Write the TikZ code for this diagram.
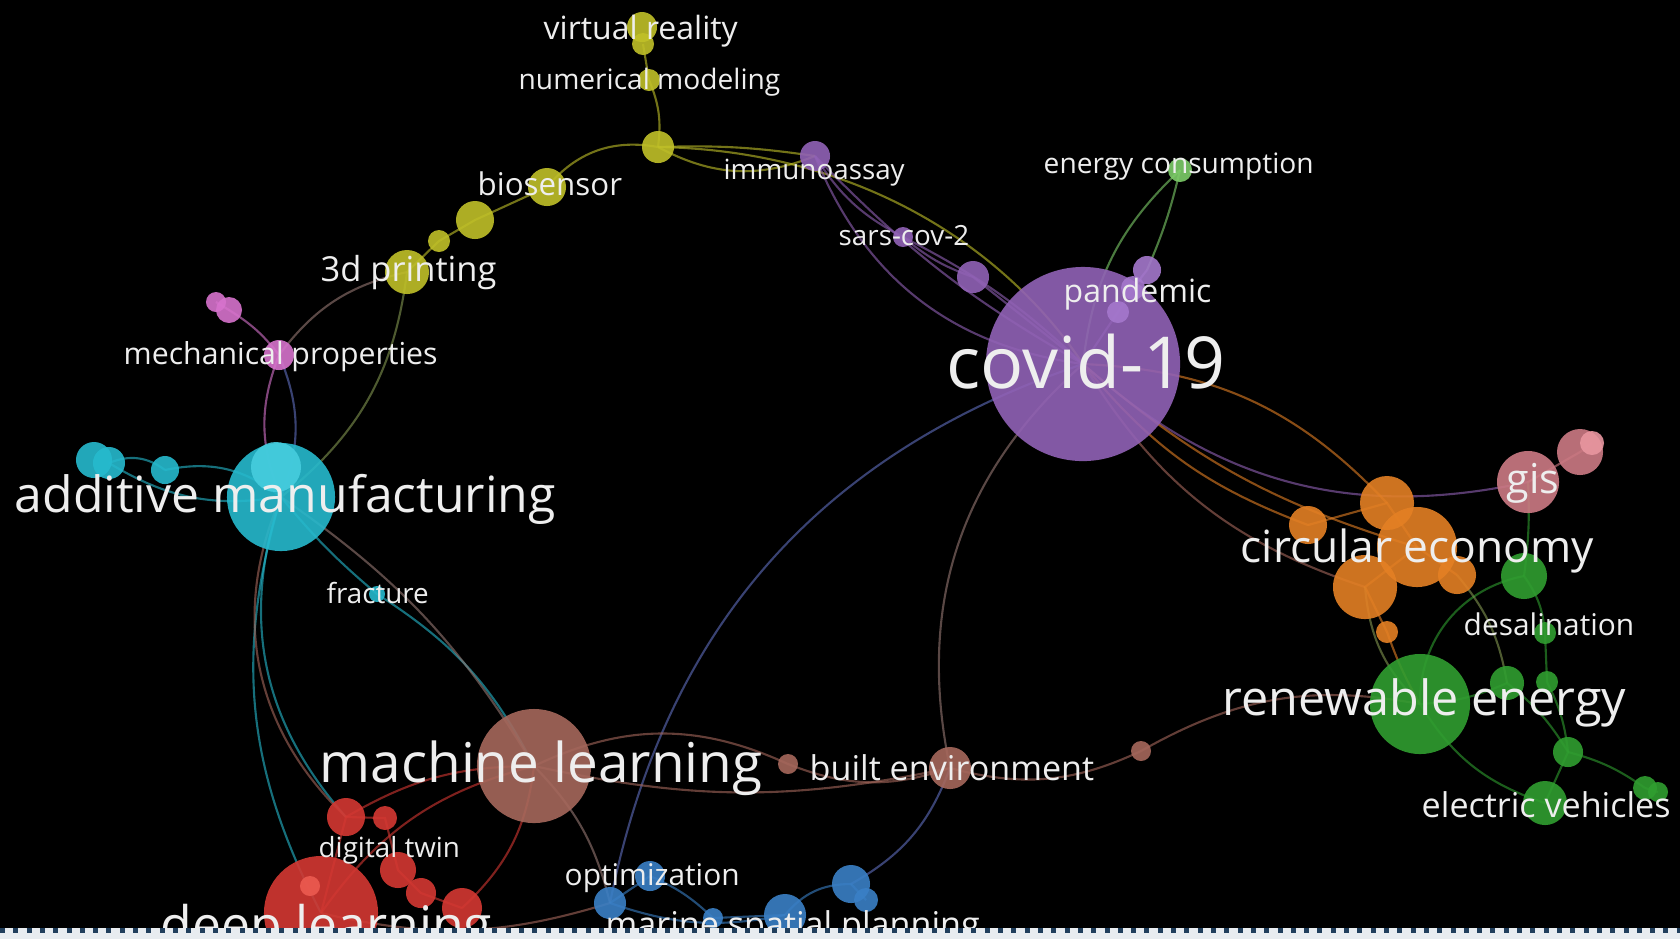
\documentclass[tikz,border=0pt]{standalone}
\usepackage{fontspec}
\setmainfont{Open Sans}
\usetikzlibrary{positioning}

\definecolor{yel}{RGB}{192,192,40}
\definecolor{pnk}{RGB}{215,115,205}
\definecolor{cyn}{RGB}{38,186,206}
\definecolor{cynl}{RGB}{70,205,222}
\definecolor{pur}{RGB}{145,98,182}
\definecolor{purl}{RGB}{165,120,205}
\definecolor{bpur}{RGB}{95,110,190}
\definecolor{lgr}{RGB}{125,205,105}
\definecolor{grn}{RGB}{48,158,48}
\definecolor{olv}{RGB}{130,150,80}
\definecolor{org}{RGB}{228,128,36}
\definecolor{gisc}{RGB}{205,122,132}
\definecolor{gisl}{RGB}{232,150,160}
\definecolor{brn}{RGB}{166,104,92}
\definecolor{gry}{RGB}{150,120,115}
\definecolor{red}{RGB}{212,56,50}
\definecolor{redl}{RGB}{236,90,80}
\definecolor{blu}{RGB}{58,128,198}
\definecolor{txt}{RGB}{238,238,238}
\definecolor{strip}{RGB}{232,236,240}
\definecolor{navy}{RGB}{32,62,92}

\pgfdeclarelayer{back}
\pgfdeclarelayer{links}
\pgfsetlayers{back,links,main}

\begin{document}
\begin{tikzpicture}[
    x=0.01cm, y=-0.01cm,
    term/.style 2 args={circle, fill=#1, fill opacity=0.9, minimum size=#2*0.02cm, inner sep=0pt},
    link/.style={draw=#1, draw opacity=0.6, line width=0.6pt},
    lbl/.style={text=txt, anchor=base west, inner sep=0pt, font=\fontsize{#1}{#1}\selectfont}
]
    \useasboundingbox (0,0) rectangle (1680,938);
    \begin{pgfonlayer}{back}
        \fill[black] (0,0) rectangle (1680,938);
    \end{pgfonlayer}

    % yellow cluster
    \node[term={yel}{15}] (vr) at (642,27) {};
    \node[term={yel}{11}] (vrb) at (643,44) {};
    \node[term={yel}{11}] (nm) at (649,80) {};
    \node[term={yel}{16}] (yhub) at (658,147) {};
    \node[term={yel}{19}] (bio) at (547,187) {};
    \node[term={yel}{19}] (ya) at (475,220) {};
    \node[term={yel}{11}] (yb) at (439,241) {};
    \node[term={yel}{22}] (print) at (407,272) {};

    % pink
    \node[term={pnk}{10}] (pa) at (216,302) {};
    \node[term={pnk}{13}] (pb) at (229,310) {};
    \node[term={pnk}{15}] (mech) at (279,355) {};

    % cyan
    \node[term={cyn}{54}] (am) at (281,497) {};
    \node[term={cynl}{25}] (amb) at (276,467) {};
    \node[term={cyn}{18}] (ca) at (94,460) {};
    \node[term={cyn}{16}] (cb) at (109,463) {};
    \node[term={cyn}{14}] (cc) at (165,470) {};
    \node[term={cyn}{8}] (frac) at (377,594) {};

    % purple
    \node[term={pur}{97}] (covid) at (1083,364) {};
    \node[term={pur}{15}] (imm) at (815,156) {};
    \node[term={pur}{10}] (sars) at (903,237) {};
    \node[term={pur}{16}] (pv) at (973,277) {};
    \node[term={purl}{14}] (pan) at (1147,270) {};
    \node[term={purl}{12}] (pana) at (1133,288) {};
    \node[term={purl}{11}] (panb) at (1118,312) {};
    \node[term={lgr}{12}] (energy) at (1180,170) {};

    % orange
    \node[term={org}{27}] (oa) at (1387,503) {};
    \node[term={org}{40}] (circ) at (1417,547) {};
    \node[term={org}{32}] (ob) at (1365,587) {};
    \node[term={org}{19}] (oc) at (1457,575) {};
    \node[term={org}{19}] (od) at (1308,525) {};
    \node[term={org}{11}] (oe) at (1387,632) {};

    % gis
    \node[term={gisc}{31}] (gis) at (1528,482) {};
    \node[term={gisc}{23}] (gisa) at (1580,452) {};
    \node[term={gisl}{12}] (gisb) at (1592,443) {};

    % green
    \node[term={grn}{50}] (renew) at (1420,704) {};
    \node[term={grn}{23}] (ga) at (1524,576) {};
    \node[term={grn}{11}] (desal) at (1545,633) {};
    \node[term={grn}{17}] (gb) at (1507,683) {};
    \node[term={grn}{11}] (gc) at (1547,682) {};
    \node[term={grn}{15}] (gd) at (1568,752) {};
    \node[term={grn}{22}] (ev) at (1545,803) {};
    \node[term={grn}{12}] (ge) at (1645,788) {};
    \node[term={grn}{10}] (gf) at (1658,792) {};

    % brown
    \node[term={brn}{57}] (ml) at (534,766) {};
    \node[term={brn}{10}] (ma) at (788,764) {};
    \node[term={brn}{21}] (built) at (950,768) {};
    \node[term={brn}{10}] (mb) at (1141,751) {};

    % red
    \node[term={red}{57}] (deep) at (321,913) {};
    \node[term={redl}{10}] (deepa) at (310,886) {};
    \node[term={red}{19}] (ra) at (346,817) {};
    \node[term={red}{12}] (rb) at (385,818) {};
    \node[term={red}{18}] (twin) at (398,870) {};
    \node[term={red}{15}] (rc) at (421,893) {};
    \node[term={red}{20}] (rd) at (462,908) {};

    % blue
    \node[term={blu}{15}] (opt) at (650,876) {};
    \node[term={blu}{16}] (ba) at (610,903) {};
    \node[term={blu}{10}] (bb) at (713,918) {};
    \node[term={blu}{21}] (marine) at (785,915) {};
    \node[term={blu}{19}] (bc) at (851,884) {};
    \node[term={blu}{12}] (bd) at (866,900) {};

    \begin{pgfonlayer}{links}
        % yellow
        \draw[link=yel] (vrb.center) -- (nm.center);
        \draw[link=yel] (nm.center) to[bend left=15] (yhub.center);
        \draw[link=yel] (yhub.center) to[bend right=30] (bio.center);
        \draw[link=yel] (bio.center) -- (ya.center) -- (yb.center) -- (print.center);
        \draw[link=yel] (yhub.center) to[bend left=5] (imm.center);
        \draw[link=yel] (yhub.center) to[bend right=25] (imm.center);
        \draw[link=yel] (yhub.center) .. controls (850,150) and (1000,240) .. (covid.center);
        % purple
        \draw[link=pur] (imm.center) to[bend right=15] (sars.center);
        \draw[link=pur] (sars.center) to[bend right=10] (pv.center);
        \draw[link=pur] (pv.center) -- (covid.center);
        \draw[link=pur] (imm.center) to[bend right=30] (covid.center);
        \draw[link=pur] (imm.center) to[bend right=8] (covid.center);
        \draw[link=pur] (sars.center) to[bend left=8] (covid.center);
        \draw[link=purl] (pan.center) -- (pana.center) -- (panb.center) -- (covid.center);
        \draw[link=lgr] (energy.center) to[bend right=20] (covid.center);
        \draw[link=lgr] (energy.center) to[bend left=5] (pan.center);
        \draw[link=bpur] (covid.center) to[bend right=30] (ba.center);
        \draw[link=gry] (covid.center) to[bend right=30] (built.center);
        \draw[link=pur] (covid.center) to[bend right=27] (gis.center);
        \draw[link=org] (covid.center) to[bend left=22] (oa.center);
        \draw[link=org] (covid.center) to[bend right=15] (od.center);
        \draw[link=brn] (covid.center) to[bend right=20] (ob.center);
        \draw[link=org] (covid.center) to[bend right=12] (circ.center);
        % pink and cyan
        \draw[link=pnk] (pa.center) -- (pb.center);
        \draw[link=pnk] (pb.center) to[bend left=10] (mech.center);
        \draw[link=gry] (mech.center) to[bend left=20] (print.center);
        \draw[link=pnk] (am.center) to[bend left=22] (mech.center);
        \draw[link=bpur] (am.center) to[bend right=22] (mech.center);
        \draw[link=olv] (print.center) to[bend left=22] (am.center);
        \draw[link=cyn] (am.center) to[bend right=25] (cc.center);
        \draw[link=cyn] (cc.center) to[bend right=30] (cb.center);
        \draw[link=cyn] (cb.center) to[bend right=20] (am.center);
        \draw[link=cyn] (am.center) to[bend right=5] (frac.center);
        \draw[link=cyn] (frac.center) to[bend left=15] (ml.center);
        \draw[link=gry] (am.center) to[bend left=12] (ml.center);
        \draw[link=cyn] (am.center) to[bend right=30] (ra.center);
        \draw[link=cyn] (am.center) to[bend right=22] (deep.center);
        \draw[link=brn] (ra.center) to[bend left=35] (am.center);
        % brown
        \draw[link=brn] (ml.center) to[bend left=25] (ma.center);
        \draw[link=brn] (ma.center) to[bend right=20] (built.center);
        \draw[link=brn] (ml.center) to[bend right=12] (built.center);
        \draw[link=brn] (built.center) to[bend right=20] (mb.center);
        \draw[link=brn] (mb.center) to[bend left=20] (renew.center);
        \draw[link=gry] (ml.center) to[bend left=15] (ba.center);
        \draw[link=bpur] (built.center) to[bend left=20] (bc.center);
        % red
        \draw[link=red] (deep.center) -- (ra.center) -- (rb.center) -- (twin.center) -- (rc.center) -- (rd.center);
        \draw[link=red] (ra.center) to[bend left=15] (ml.center);
        \draw[link=red] (deep.center) to[bend left=20] (ml.center);
        \draw[link=red] (rd.center) to[bend right=20] (ml.center);
        \draw[link=brn] (deep.center) to[bend right=15] (ba.center);
        % blue
        \draw[link=blu] (ba.center) -- (opt.center);
        \draw[link=blu] (opt.center) to[bend left=10] (bb.center);
        \draw[link=blu] (bb.center) -- (marine.center);
        \draw[link=blu] (marine.center) to[bend left=25] (bc.center);
        \draw[link=blu] (bc.center) -- (bd.center);
        \draw[link=blu] (ba.center) to[bend right=15] (marine.center);
        % orange, gis, green
        \draw[link=org] (od.center) -- (oa.center) -- (circ.center) -- (ob.center) -- (oe.center);
        \draw[link=org] (circ.center) -- (oc.center);
        \draw[link=org] (oe.center) to[bend right=5] (renew.center);
        \draw[link=gisc] (gis.center) -- (gisa.center) -- (gisb.center);
        \draw[link=grn] (gis.center) to[bend left=5] (ga.center);
        \draw[link=grn] (ga.center) to[bend right=40] (renew.center);
        \draw[link=grn] (ga.center) to[bend left=15] (desal.center);
        \draw[link=grn] (desal.center) -- (gc.center);
        \draw[link=grn] (gc.center) to[bend left=10] (gd.center);
        \draw[link=grn] (renew.center) to[bend right=10] (gb.center);
        \draw[link=grn] (gb.center) to[bend left=10] (gd.center);
        \draw[link=grn] (gd.center) to[bend left=10] (ge.center);
        \draw[link=grn] (ge.center) -- (gf.center);
        \draw[link=grn] (gd.center) -- (ev.center);
        \draw[link=grn] (renew.center) to[bend right=20] (ev.center);
        \draw[link=olv] (oc.center) to[bend left=15] (gb.center);
        \draw[link=olv] (ob.center) to[bend right=20] (renew.center);
    \end{pgfonlayer}

    % labels
    \node[lbl=9.1] (vrL) at (543,39) {virtual reality};
    \node[lbl=8] (nmL) at (518,89) {numerical modeling};
    \node[lbl=7.9] (immL) at (723,179) {immunoassay};
    \node[lbl=8] (energyL) at (1043,173) {energy consumption};
    \node[lbl=8.9] (bioL) at (477,195) {biosensor};
    \node[lbl=7.9] (sarsL) at (838,245) {sars-cov-2};
    \node[lbl=9.8] (printL) at (320,281) {3d printing};
    \node[lbl=9.1] (panL) at (1063,302) {pandemic};
    \node[lbl=8.6] (mechL) at (123,364) {mechanical properties};
    \node[lbl=20.4] (covidL) at (946,388) {covid-19};
    \node[lbl=14.2] (amL) at (14,512) {additive manufacturing};
    \node[lbl=11.7] (gisL) at (1506,493) {gis};
    \node[lbl=12.6] (circL) at (1240,562) {circular economy};
    \node[lbl=7.9] (fracL) at (326,603) {fracture};
    \node[lbl=8.5] (desalL) at (1463,635) {desalination};
    \node[lbl=13.8] (renewL) at (1222,715) {renewable energy};
    \node[lbl=15.6] (mlL) at (319,782) {machine learning};
    \node[lbl=9.7] (builtL) at (809,780) {built environment};
    \node[lbl=9.7] (evL) at (1421,817) {electric vehicles};
    \node[lbl=7.9] (twinL) at (318,857) {digital twin};
    \node[lbl=8.5] (optL) at (564,885) {optimization};
    \node[lbl=14.7] (deepL) at (160,943) {deep learning};
    \node[lbl=9.7] (marineL) at (605,936) {marine spatial planning};

    % bottom strip, covering the lower edge of the last labels
    \fill[strip] (0,928) rectangle (1680,990);
    \draw[navy, line width=0.05cm, dash pattern=on 0.05cm off 0.083cm] (0,930.5) -- (1680,930.5);
\end{tikzpicture}
\end{document}
